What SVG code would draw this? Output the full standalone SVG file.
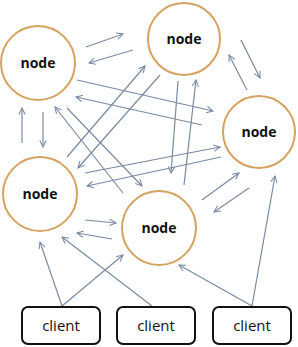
<svg xmlns="http://www.w3.org/2000/svg" width="298" height="347" viewBox="0 0 298 347">
<style>
.node circle{fill:#ffffff;stroke:#d4a261;stroke-width:2}
.node text{font-family:"Open Sans","Liberation Sans",sans-serif;font-weight:bold;font-size:14px;fill:#111;text-anchor:middle}
.client rect{fill:#ffffff;stroke:#111;stroke-width:2}
.client text{font-family:"Open Sans","Liberation Sans",sans-serif;font-size:15px;fill:#111;text-anchor:middle}
#connectors line{stroke:#7a8aa2;stroke-width:1.2;fill:none;marker-end:url(#arr)}
</style>
<defs>
<marker id="arr" viewBox="0 0 10 10" refX="9" refY="5" markerWidth="8" markerHeight="8" markerUnits="userSpaceOnUse" orient="auto">
<path d="M1,1 L9,5 L1,9" fill="none" stroke="#7a8aa2" stroke-width="1.3"/>
</marker>
</defs>
<rect width="298" height="347" fill="#ffffff"/>
<g id="connectors">
<line x1="86" y1="47" x2="123" y2="34"/>
<line x1="133" y1="50" x2="89" y2="63"/>
<line x1="241" y1="40" x2="260" y2="78"/>
<line x1="247" y1="90" x2="229" y2="55"/>
<line x1="22" y1="143" x2="22" y2="108"/>
<line x1="43" y1="112" x2="43" y2="147"/>
<line x1="77" y1="80" x2="213" y2="111"/>
<line x1="202" y1="125" x2="76" y2="97"/>
<line x1="67" y1="157" x2="145" y2="66"/>
<line x1="160" y1="75" x2="78" y2="168"/>
<line x1="123" y1="193" x2="55" y2="107"/>
<line x1="67" y1="108" x2="142" y2="186"/>
<line x1="85" y1="173" x2="220" y2="147"/>
<line x1="221" y1="157" x2="87" y2="186"/>
<line x1="178" y1="81" x2="171" y2="173"/>
<line x1="184" y1="185" x2="196" y2="80"/>
<line x1="202" y1="200" x2="239" y2="173"/>
<line x1="249" y1="188" x2="214" y2="212"/>
<line x1="85" y1="220" x2="116" y2="223"/>
<line x1="112" y1="239" x2="77" y2="233"/>
<line x1="62" y1="306" x2="40" y2="242"/>
<line x1="62" y1="306" x2="123" y2="255"/>
<line x1="152" y1="306" x2="62" y2="237"/>
<line x1="252" y1="306" x2="179" y2="265"/>
<line x1="252" y1="306" x2="275" y2="176"/>
</g>
<g id="nodeA" class="node"><circle cx="38" cy="63" r="37"/><text x="38" y="68">node</text></g>
<g id="nodeB" class="node"><circle cx="184" cy="39" r="36"/><text x="184" y="44">node</text></g>
<g id="nodeC" class="node"><circle cx="259" cy="132" r="36"/><text x="259" y="137">node</text></g>
<g id="nodeD" class="node"><circle cx="40" cy="194" r="37"/><text x="40" y="199">node</text></g>
<g id="nodeE" class="node"><circle cx="159" cy="228" r="37"/><text x="159" y="233">node</text></g>
<g id="client1" class="client"><rect x="22" y="307" width="78" height="37" rx="6"/><text x="61" y="331">client</text></g>
<g id="client2" class="client"><rect x="117" y="307" width="78" height="37" rx="6"/><text x="156" y="331">client</text></g>
<g id="client3" class="client"><rect x="213" y="307" width="78" height="37" rx="6"/><text x="252" y="331">client</text></g>
</svg>
